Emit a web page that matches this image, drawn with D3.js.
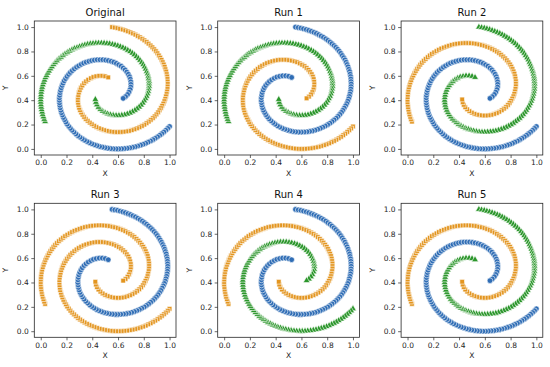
<!DOCTYPE html>
<meta charset="utf-8">
<html>
<head>
<style>
  body { margin: 0; background: #fff; }
  svg { display: block; }
  .tick text { font: 7.5px "DejaVu Sans", sans-serif; fill: #262626; }
  .tick line { stroke: #262626; stroke-width: 0.7px; }
  .frame { fill: none; stroke: #262626; stroke-width: 0.8px; }
  .title { font: 10px "DejaVu Sans", sans-serif; text-anchor: middle; fill: #111; }
  .axlabel { font: 7.6px "DejaVu Sans", sans-serif; text-anchor: middle; fill: #262626; }
</style>
</head>
<body>
<svg width="550" height="367"></svg>

<script src="https://d3js.org/d3.v7.min.js"></script>
<script>

// the three spiral arms, 100 points each
// arm A starts top (0.55, 1.0), arm B starts right (1.0, 0.18), arm C starts left (0.03, 0.22)
const armAx = [.554,.575,.596,.616,.637,.657,.677,.697,.716,.735,.753,.771,.789,.805,.822,.837,.853,.867,.881,.894,
  .906,.917,.928,.938,.947,.955,.962,.968,.974,.978,.982,.984,.985,.986,.985,.984,.981,.977,.972,.967,
  .960,.952,.943,.933,.922,.911,.898,.884,.870,.854,.838,.821,.804,.785,.766,.747,.727,.706,.685,.664,
  .643,.621,.599,.578,.556,.534,.513,.492,.472,.452,.432,.414,.396,.380,.364,.349,.336,.324,.314,.305,
  .298,.293,.290,.288,.289,.292,.296,.303,.312,.323,.337,.352,.369,.389,.409,.431,.454,.478,.501,.524];
const armAy = [1.000,.996,.992,.986,.980,.973,.965,.957,.948,.938,.927,.916,.904,.891,.878,.864,.849,.834,.818,.802,
  .785,.767,.749,.731,.712,.693,.674,.654,.635,.614,.594,.574,.553,.533,.512,.492,.471,.451,.431,.411,
  .392,.372,.354,.335,.317,.300,.283,.267,.252,.238,.224,.211,.199,.188,.178,.169,.161,.154,.148,.144,
  .141,.139,.138,.138,.140,.143,.148,.154,.161,.169,.179,.190,.203,.216,.231,.246,.263,.281,.299,.318,
  .338,.359,.379,.400,.421,.442,.463,.483,.503,.521,.539,.554,.568,.580,.590,.596,.600,.600,.596,.587];

const armBx = [1.000,.986,.971,.956,.940,.924,.907,.889,.871,.853,.834,.815,.795,.775,.754,.734,.713,.692,.671,.649,
  .628,.606,.585,.563,.542,.520,.499,.478,.457,.437,.417,.397,.378,.359,.340,.322,.305,.289,.273,.258,
  .243,.230,.217,.205,.195,.185,.176,.168,.161,.156,.151,.148,.146,.145,.145,.147,.150,.154,.159,.166,
  .173,.182,.193,.204,.217,.230,.245,.261,.278,.295,.314,.333,.353,.374,.395,.416,.438,.460,.482,.504,
  .525,.547,.567,.587,.606,.624,.640,.655,.668,.680,.689,.695,.699,.700,.699,.694,.685,.674,.658,.640];
const armBy = [.184,.168,.153,.139,.125,.112,.099,.087,.076,.065,.056,.046,.038,.031,.024,.018,.013,.009,.005,.003,
  .001,.000,.000,.001,.003,.006,.010,.015,.020,.027,.034,.042,.051,.061,.072,.084,.096,.109,.123,.138,
  .153,.169,.186,.203,.221,.240,.258,.278,.297,.317,.337,.358,.378,.399,.419,.440,.461,.481,.501,.521,
  .540,.559,.577,.595,.612,.628,.643,.657,.671,.683,.694,.704,.712,.719,.725,.729,.732,.732,.732,.729,
  .725,.719,.712,.702,.691,.679,.664,.649,.631,.613,.593,.573,.551,.530,.508,.487,.466,.447,.429,.415];

const armCx = [.034,.027,.021,.015,.011,.007,.004,.002,.000,.000,.001,.002,.004,.007,.011,.016,.022,.029,.036,.045,
  .054,.064,.075,.087,.099,.112,.126,.141,.157,.173,.189,.207,.225,.243,.262,.282,.302,.322,.343,.364,
  .385,.406,.428,.449,.471,.492,.514,.535,.557,.577,.598,.618,.638,.657,.676,.694,.711,.727,.743,.758,
  .771,.784,.796,.806,.815,.823,.830,.835,.838,.841,.841,.841,.838,.834,.829,.822,.813,.803,.792,.779,
  .764,.748,.731,.712,.693,.672,.651,.629,.607,.585,.562,.540,.519,.499,.480,.463,.448,.436,.428,.424];
const armCy = [.224,.243,.263,.283,.303,.323,.343,.363,.384,.404,.425,.445,.466,.486,.506,.526,.546,.565,.585,.603,
  .622,.640,.658,.675,.692,.708,.724,.739,.753,.767,.780,.792,.803,.814,.824,.832,.840,.847,.854,.859,
  .863,.866,.868,.869,.869,.868,.866,.863,.858,.853,.847,.839,.831,.821,.810,.799,.786,.773,.758,.743,
  .727,.710,.693,.675,.656,.636,.617,.596,.576,.555,.535,.514,.493,.472,.452,.432,.413,.395,.377,.360,
  .344,.330,.317,.305,.295,.287,.280,.276,.274,.274,.276,.281,.288,.298,.310,.325,.342,.362,.383,.406];

// cluster given to arms A, B, C in each panel (0 blue circle, 1 orange square, 2 green triangle)
const panelTitles = ["Original", "Run 1", "Run 2", "Run 3", "Run 4", "Run 5"];
const labelsOriginal = [1, 0, 2];
const labelsRun1 = [0, 1, 2];
const labelsRun2 = [2, 0, 1];
const labelsRun3 = [0, 1, 1];
const labelsRun4 = [0, 2, 1];
const labelsRun5 = [2, 0, 1];
const panelLabels = [labelsOriginal, labelsRun1, labelsRun2, labelsRun3, labelsRun4, labelsRun5];

const tickValues = [0, 0.2, 0.4, 0.6, 0.8, 1.0];

// styles
const clusterColour = ["#2f6db5", "#e3951f", "#2b962b"];
const clusterSymbol = [
  d3.symbol().type(d3.symbolCircle).size(25)(),
  d3.symbol().type(d3.symbolSquare).size(22)(),
  d3.symbol().type(d3.symbolTriangle).size(20)()
];

const arms = [[armAx, armAy], [armBx, armBy], [armCx, armCy]];

const svg = d3.select("svg");

const axW = 141.7, axH = 134;
const colLeft = [34.3, 217.7, 401.1];
const rowTop = [21, 203.3];

const x = d3.scaleLinear().domain([-0.05, 1.05]).range([0, axW]);
const y = d3.scaleLinear().domain([-0.05, 1.05]).range([axH, 0]);

panelTitles.forEach((title, p) => {
  const g = svg.append("g")
    .attr("transform", `translate(${colLeft[p % 3]},${rowTop[Math.floor(p / 3)]})`);

  // points of this panel
  const pts = [];
  arms.forEach(([ax, ay], a) => {
    ax.forEach((v, i) => pts.push({ x: v, y: ay[i], c: panelLabels[p][a] }));
  });

  g.selectAll("path.pt")
    .data(pts)
    .join("path")
    .attr("class", "pt")
    .attr("transform", d => `translate(${x(d.x)},${y(d.y)})`)
    .attr("d", d => clusterSymbol[d.c])
    .attr("fill", d => clusterColour[d.c])
    .attr("stroke", "#fff")
    .attr("stroke-width", 0.6);

  const fmt = d3.format(".1f");
  const xa = g.append("g")
    .attr("transform", `translate(0,${axH})`)
    .call(d3.axisBottom(x).tickValues(tickValues).tickFormat(fmt).tickSize(3).tickPadding(2));
  const ya = g.append("g")
    .call(d3.axisLeft(y).tickValues(tickValues).tickFormat(fmt).tickSize(3).tickPadding(2.5));
  xa.select(".domain").remove();
  ya.select(".domain").remove();

  g.append("rect").attr("class", "frame")
    .attr("width", axW).attr("height", axH);

  g.append("text").attr("class", "title")
    .attr("x", axW / 2).attr("y", -5)
    .text(title);

  g.append("text").attr("class", "axlabel")
    .attr("x", axW / 2).attr("y", axH + 21)
    .text("X");

  g.append("text").attr("class", "axlabel")
    .attr("transform", `translate(-26,${axH / 2}) rotate(-90)`)
    .text("Y");
});

</script>
</body>
</html>
